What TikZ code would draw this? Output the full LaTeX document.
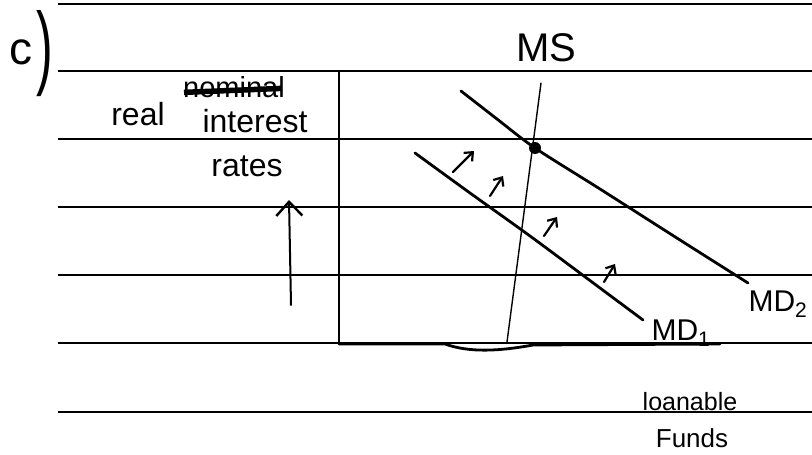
\documentclass[tikz,border=0pt]{standalone}
\usepackage{fontspec}
\usepackage{graphicx}
\setmainfont{Liberation Sans}
\usetikzlibrary{arrows.meta}
\begin{document}
\begin{tikzpicture}[x=1pt,y=-1pt,
  rule/.style={line width=1.3pt,black},
  handline/.style={line width=2.8pt,black,line cap=round,line join=round},
  thinhand/.style={line width=1.4pt,black,line cap=round},
  shiftarrow/.style={line width=2.2pt,black,line cap=round,-{Straight Barb[length=7pt,width=12pt]}},
  hand/.style={inner sep=0pt,text=black}]
\useasboundingbox (0,0) rectangle (812,455);
\fill[white] (0,0) rectangle (812,455);
% ruled lines of the paper
\foreach \yy in {4,71,139,207,275,343,412}
  \draw[rule] (58,\yy) -- (812,\yy);
% label c)
\node[hand,font=\fontsize{46}{46}\selectfont] (cletter) at (21,52) {c};
\node[hand] (cparen) at (45,54) {\scalebox{1}[1.85]{\fontsize{50}{50}\selectfont )}};
% axes
\coordinate (yaxtop) at (339,71);
\coordinate (origin) at (339,344);
\coordinate (xaxend) at (720,344);
\draw[handline,line width=2.4pt] (yaxtop) -- (origin);
\draw[handline] (origin) -- (445,344) .. controls (470,353) and (500,351) .. (533,345) -- (xaxend);
% axis labels
\node[hand,font=\fontsize{32}{32}\selectfont] (real) at (138,114) {real};
\node[hand,font=\fontsize{29}{29}\selectfont] (nominal) at (234,87) {nominal};
\draw[black,line width=5.5pt] ([xshift=1pt,yshift=5pt]nominal.base west) -- ([xshift=-3pt,yshift=9pt]nominal.base east);
\node[hand,font=\fontsize{32}{32}\selectfont] (interest) at (255,121) {interest};
\node[hand,font=\fontsize{32}{32}\selectfont] (rates) at (247,166) {rates};
\coordinate (upstart) at (291,305);
\coordinate (uptip) at (289,200);
\draw[thinhand,line width=2pt,-{Straight Barb[length=14pt,width=26pt,line width=2.4pt]}] (upstart) -- (uptip);
\node[hand,font=\fontsize{25}{25}\selectfont] (loanable) at (690,402) {loanable};
\node[hand,font=\fontsize{26}{26}\selectfont] (funds) at (692,438) {Funds};
% money supply
\node[hand,font=\fontsize{40}{40}\selectfont] (ms) at (546,48) {MS};
\coordinate (mstop) at (541,83);
\coordinate (msbot) at (507,342);
\draw[thinhand] (mstop) -- (msbot);
% money demand curves
\coordinate (mdtwostart) at (461,91);
\coordinate (eq) at (535,148);
\coordinate (mdtwoend) at (748,283);
\draw[handline] plot[smooth] coordinates {(mdtwostart) (497,119) (eq) (600,189) (680,240) (mdtwoend)};
\coordinate (mdonestart) at (415,153);
\coordinate (mdoneend) at (643,320);
\draw[handline] plot[smooth] coordinates {(mdonestart) (470,193) (530,236) (600,288) (mdoneend)};
\fill[black] (eq) circle (6pt);
\node[hand,font=\fontsize{30}{30}\selectfont] (mdone) at (681,333) {MD\textsubscript{1}};
\node[hand,font=\fontsize{30}{30}\selectfont] (mdtwo) at (778,304) {MD\textsubscript{2}};
% shift arrows
\coordinate (aonea) at (453,172); \coordinate (aoneb) at (474,151);
\coordinate (atwoa) at (490,196); \coordinate (atwob) at (503,176);
\coordinate (athreea) at (544,236); \coordinate (athreeb) at (557,217);
\coordinate (afoura) at (604,282); \coordinate (afourb) at (615,264);
\draw[shiftarrow] (aonea) -- (aoneb);
\draw[shiftarrow] (atwoa) -- (atwob);
\draw[shiftarrow] (athreea) -- (athreeb);
\draw[shiftarrow] (afoura) -- (afourb);
\end{tikzpicture}
\end{document}
